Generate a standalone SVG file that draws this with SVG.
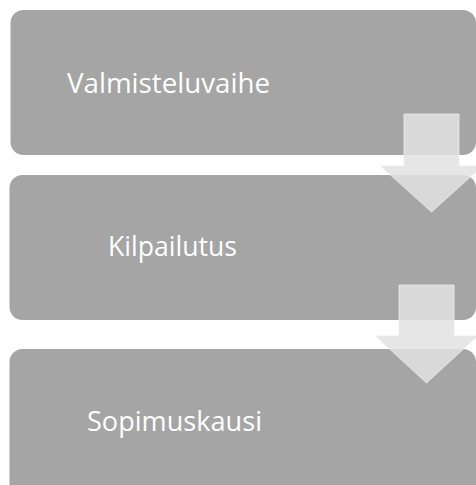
<svg xmlns="http://www.w3.org/2000/svg" width="476" height="485" viewBox="0 0 476 485">
<style>
.box{fill:#a5a5a5;}
.lbl{font-family:"Open Sans","Noto Sans",sans-serif;font-size:27px;fill:#ffffff;}
.arr{fill:#e2e2e2;fill-opacity:0.85;stroke:#ececec;stroke-width:1;stroke-opacity:0.8;}
</style>
<rect width="476" height="485" fill="#ffffff"/>
<g id="node-valmisteluvaihe">
<rect class="box" x="10.5" y="10" width="465.5" height="145" rx="13"/>
<text class="lbl" x="67" y="92.5" textLength="203" lengthAdjust="spacingAndGlyphs">Valmisteluvaihe</text>
</g>
<g id="node-kilpailutus">
<rect class="box" x="9.5" y="175" width="466.5" height="145" rx="13"/>
<text class="lbl" x="108" y="256" textLength="129" lengthAdjust="spacingAndGlyphs">Kilpailutus</text>
</g>
<g id="node-sopimuskausi">
<rect class="box" x="9.5" y="349" width="466.5" height="160" rx="13"/>
<text class="lbl" x="87" y="431" textLength="175" lengthAdjust="spacingAndGlyphs">Sopimuskausi</text>
</g>
<g id="connectors">
<path class="arr" d="M404,114 H459 V166 H482.5 L431.5,212 L380.5,166 H404 Z"/>
<path class="arr" d="M399,285 H454 V336 H477.5 L426.5,383 L375.5,336 H399 Z"/>
</g>
</svg>
